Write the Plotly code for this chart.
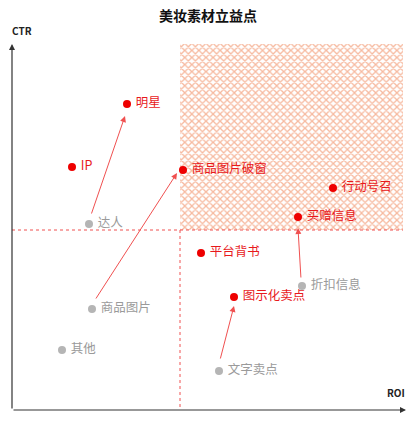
import plotly.graph_objects as go

H = 421
# positions (x to the right, y up from bottom edge)
red_names = ["明星", "IP", "商品图片破窗", "行动号召", "买赠信息", "平台背书", "图示化卖点"]
red_x = [127, 72, 183, 333, 298, 201, 234]
red_y = [H - 104, H - 167, H - 170, H - 188, H - 217, H - 253, H - 297]
gray_names = ["折扣信息", "达人", "商品图片", "其他", "文字卖点"]
gray_x = [302, 89, 92, 62, 219]
gray_y = [H - 286, H - 224, H - 309, H - 350, H - 371]
# arrows: from (x0,y0) to (x1,y1)
arrows = [(91, H - 215, 125, H - 116), (95, H - 300, 177, H - 173),
          (301, H - 279, 298, H - 228), (220, H - 360, 234, H - 306)]

fig = go.Figure()
# hatched quadrant
fig.add_trace(go.Scatter(x=[180, 403, 403, 180, 180], y=[H - 230, H - 230, H - 44, H - 44, H - 230],
                         fill="toself", mode="lines", line=dict(width=0),
                         fillcolor="rgba(255,255,255,0)",
                         fillpattern=dict(shape="x", fgcolor="#ee7440", size=5, solidity=0.45),
                         hoverinfo="skip", showlegend=False))
fig.add_trace(go.Scatter(x=red_x, y=red_y, mode="markers+text", text=[" " + n for n in red_names],
                         textposition="middle right", textfont=dict(color="#e8191c", size=12.5),
                         marker=dict(color="#ee0000", size=8), showlegend=False))
fig.add_trace(go.Scatter(x=gray_x, y=gray_y, mode="markers+text", text=[" " + n for n in gray_names],
                         textposition="middle right", textfont=dict(color="#9a9a9a", size=12.5),
                         marker=dict(color="#b5b5b5", size=8), showlegend=False))

shapes = [
    dict(type="line", x0=12, y0=H - 230, x1=403, y1=H - 230, line=dict(color="#f05050", width=1, dash="dot")),
    dict(type="line", x0=180, y0=H - 230, x1=180, y1=H - 410, line=dict(color="#f05050", width=1, dash="dot")),
]
ann = []
for x0, y0, x1, y1 in arrows:
    ann.append(dict(x=x1, y=y1, ax=x0, ay=y0, xref="x", yref="y", axref="x", ayref="y",
                    showarrow=True, arrowhead=2, arrowsize=1.2, arrowwidth=1, arrowcolor="#f05050", text=""))
# axes
ann.append(dict(x=12, y=H - 44, ax=12, ay=H - 410, xref="x", yref="y", axref="x", ayref="y",
                showarrow=True, arrowhead=2, arrowwidth=1.2, arrowcolor="#333", text=""))
ann.append(dict(x=406, y=H - 410, ax=12, ay=H - 410, xref="x", yref="y", axref="x", ayref="y",
                showarrow=True, arrowhead=2, arrowwidth=1.2, arrowcolor="#333", text=""))
ann.append(dict(x=22, y=H - 30, xref="x", yref="y", text="<b>CTR</b>", showarrow=False,
                font=dict(size=10, color="#222")))
ann.append(dict(x=396, y=H - 392, xref="x", yref="y", text="<b>ROI</b>", showarrow=False,
                font=dict(size=10, color="#222")))
ann.append(dict(x=208, y=H - 15, xref="x", yref="y", text="<b>美妆素材立益点</b>", showarrow=False,
                font=dict(size=14, color="#111")))

fig.update_layout(width=416, height=421, margin=dict(l=0, r=0, t=0, b=0),
                  plot_bgcolor="white", paper_bgcolor="white",
                  font=dict(family="Noto Sans CJK SC"),
                  xaxis=dict(range=[8, 424], visible=False),
                  yaxis=dict(range=[-8, H - 8], visible=False),
                  shapes=shapes, annotations=ann)
fig.write_html("out.html")
